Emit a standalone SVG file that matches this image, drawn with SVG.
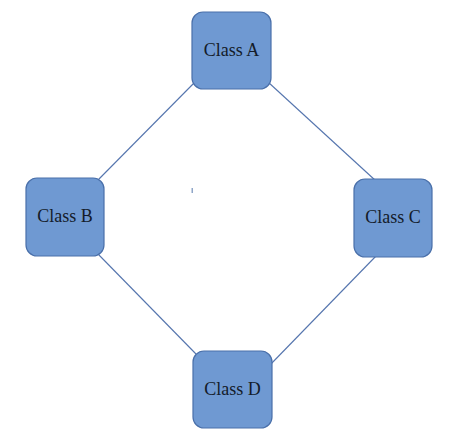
<svg xmlns="http://www.w3.org/2000/svg" width="474" height="444" viewBox="0 0 474 444">
<style>
.node rect{fill:#6f99d2;stroke:#4a70aa;stroke-width:1.2}
.node text{font-family:"Liberation Serif",serif;font-size:18px;fill:#141c2a;text-anchor:middle}
.conn line{stroke:#5575ae;stroke-width:1.1}
</style>
<rect width="474" height="444" fill="#ffffff"/>
<g id="connectors" class="conn">
<line x1="195" y1="82" x2="98" y2="180"/>
<line x1="268" y1="82" x2="376" y2="181"/>
<line x1="98" y1="254" x2="196" y2="354"/>
<line x1="377" y1="255" x2="269" y2="366"/>
</g>
<g id="classA" class="node">
<rect x="192" y="12" width="79" height="77" rx="11"/>
<text x="231.5" y="56">Class A</text>
</g>
<g id="classB" class="node">
<rect x="26" y="178" width="78" height="78" rx="11"/>
<text x="65" y="222">Class B</text>
</g>
<g id="classC" class="node">
<rect x="354" y="179" width="78" height="78" rx="11"/>
<text x="393" y="223">Class C</text>
</g>
<g id="classD" class="node">
<rect x="193" y="351" width="79" height="77" rx="11"/>
<text x="232.5" y="395">Class D</text>
</g>
<rect x="191.5" y="188" width="1.5" height="5" fill="#8fa6c8"/>
</svg>
